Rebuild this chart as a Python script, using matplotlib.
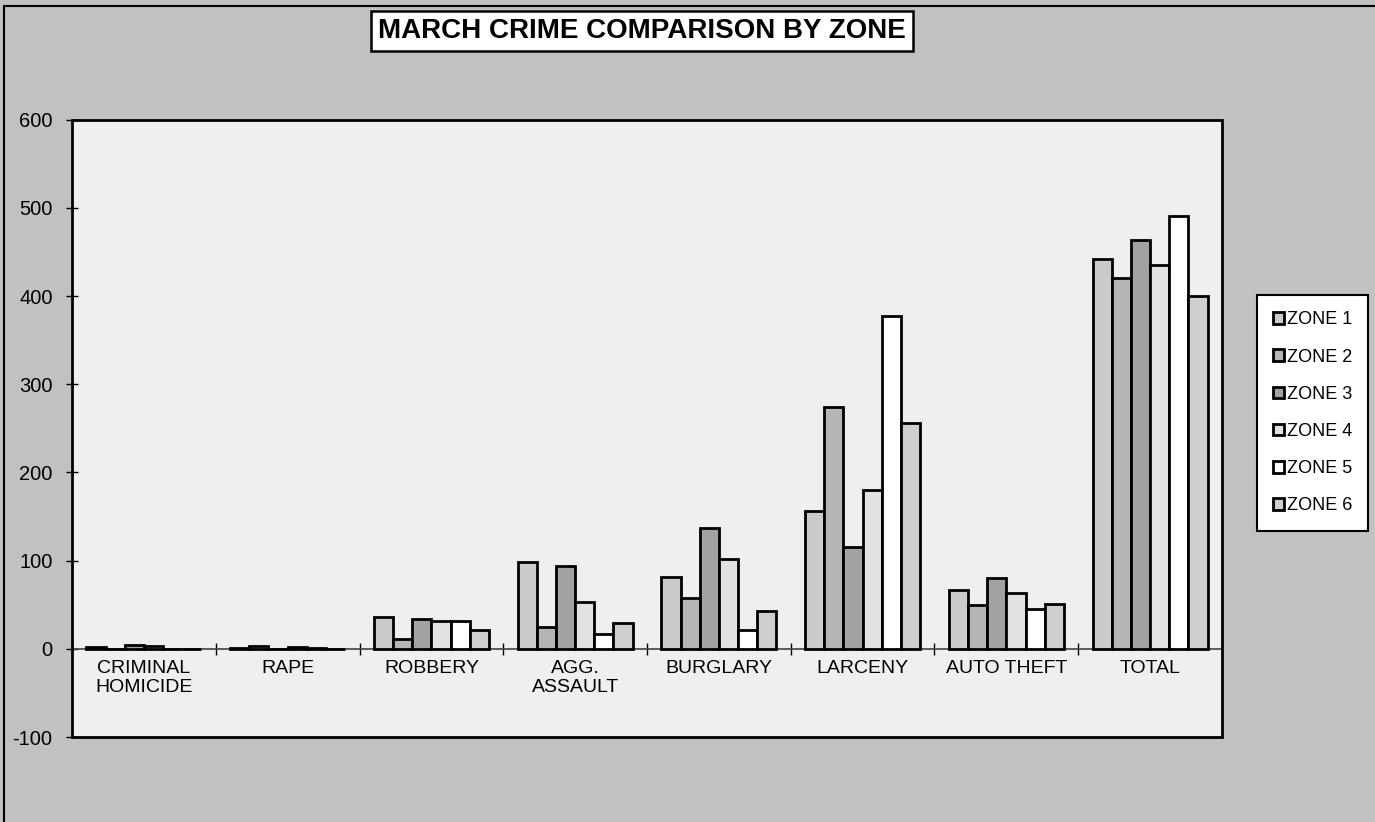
import matplotlib
matplotlib.use("Agg")
import matplotlib.pyplot as plt
import numpy as np
from matplotlib.patches import Rectangle
from matplotlib.ticker import FuncFormatter

plt.rcParams['font.family'] = ['Liberation Sans', 'DejaVu Sans']

categories = ['CRIMINAL\nHOMICIDE', 'RAPE', 'ROBBERY', 'AGG.\nASSAULT',
              'BURGLARY', 'LARCENY', 'AUTO THEFT', 'TOTAL']
zones = ['ZONE 1', 'ZONE 2', 'ZONE 3', 'ZONE 4', 'ZONE 5', 'ZONE 6']

zone1 = [2, 1, 36, 98, 81, 156, 67, 442]
zone2 = [0, 3, 11, 25, 58, 274, 50, 421]
zone3 = [4, 0, 34, 94, 137, 115, 80, 464]
zone4 = [3, 2, 31, 53, 102, 180, 63, 435]
zone5 = [0, 1, 31, 17, 21, 377, 45, 491]
zone6 = [0, 0, 21, 29, 43, 256, 51, 400]
series = [zone1, zone2, zone3, zone4, zone5, zone6]

colors = ['#cbcbcb', '#b5b5b5', '#a2a2a2', '#e2e2e2', '#ffffff', '#cfcfcf']

fig = plt.figure(figsize=(13.75, 8.22), dpi=100)
fig.patch.set_facecolor('#c1c1c1')
fig.patches.append(Rectangle((0.003, -0.05), 1.2, 1.043, transform=fig.transFigure,
                             fill=False, edgecolor='black', lw=1.5))

ax = fig.add_axes([0.0524, 0.1034, 0.8363, 0.751])
ax.set_facecolor('#efefef')

x = np.arange(len(categories))
w = 1 / 7.5
for i, (vals, c) in enumerate(zip(series, colors)):
    ax.bar(x + (i - 2.5) * w, vals, w, color=c, edgecolor='black', lw=2,
           label=zones[i], zorder=3)

ax.set_xlim(-0.5, len(categories) - 0.5)
ax.set_ylim(-100, 600)
ax.set_yticks(np.arange(-100, 601, 100))
ax.yaxis.set_major_formatter(FuncFormatter(lambda v, p: '%d' % v))
ax.tick_params(axis='y', direction='inout', length=8, width=1, labelsize=14.5, pad=10)

# category axis crosses at zero
for s in ['top', 'right', 'left']:
    ax.spines[s].set_visible(False)
ax.spines['bottom'].set_position(('data', 0))
ax.spines['bottom'].set_color('#444444')
ax.spines['bottom'].set_linewidth(1.2)
ax.set_xticks(x)
ax.set_xticklabels(categories, fontsize=14, linespacing=1.15)
ax.set_xticks(np.arange(len(categories) + 1) - 0.5, minor=True)
ax.tick_params(axis='x', which='major', length=0, pad=8)
ax.tick_params(axis='x', which='minor', direction='inout', length=9, width=1)
ax.add_patch(Rectangle((0, 0), 1, 1, transform=ax.transAxes, fill=False,
                       edgecolor='black', lw=2, clip_on=False, zorder=5))

fig.text(0.467, 0.962, 'MARCH CRIME COMPARISON BY ZONE', fontsize=20,
         fontweight='bold', ha='center', va='center',
         bbox=dict(boxstyle='square,pad=0.25', facecolor='white',
                   edgecolor='black', lw=1.8))

leg = ax.legend(loc='upper left', bbox_to_anchor=(0.914, 0.641),
                bbox_transform=fig.transFigure, borderaxespad=0,
                fontsize=13, fancybox=False, framealpha=1,
                edgecolor='black', facecolor='white', handlelength=0.6,
                handleheight=0.6, handletextpad=0.15, labelspacing=1.12,
                borderpad=0.9)
leg.get_frame().set_linewidth(1.5)

fig.savefig('out.png', dpi=100, facecolor=fig.get_facecolor())
